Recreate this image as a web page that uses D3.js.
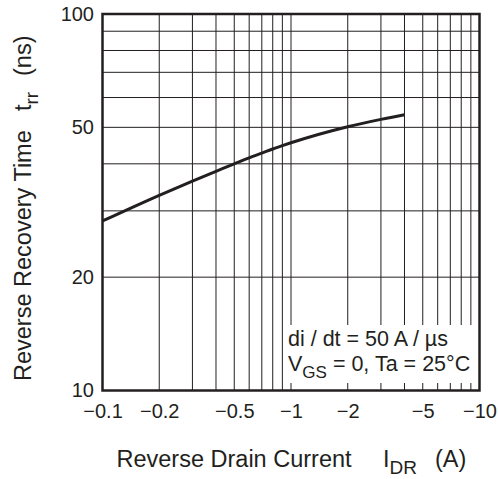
<!DOCTYPE html>
<html>
<head>
<meta charset="utf-8">
<script src="https://cdn.jsdelivr.net/npm/d3@7"></script>
<style>
  body { margin: 0; background: #fff; }
  svg { display: block; font-family: "Liberation Sans", Arial, sans-serif; }
  .axis text { fill: #231f20; font-size: 20px; }
</style>
</head>
<body>
<svg id="chart" width="498" height="479"></svg>
<script>
// reverse drain current (A, plotted as magnitude, labelled negative)
const currentA = [0.1, 0.2, 0.3, 0.4, 0.5, 0.6, 0.7, 0.8, 0.9, 1, 2, 3, 4];
// reverse recovery time trr (ns)
const trrNs = [28.2, 33.0, 36.0, 38.2, 40.0, 41.5, 42.7, 43.8, 44.7, 45.5, 50.2, 52.5, 54.0];

const xTicks = [0.1, 0.2, 0.5, 1, 2, 5, 10];
const yTicks = [10, 20, 50, 100];
const xGrid = [0.2, 0.3, 0.4, 0.5, 0.6, 0.7, 0.8, 0.9, 1, 2, 3, 4, 5, 6, 7, 8, 9];
const yGrid = [20, 30, 40, 50, 60, 70, 80, 90];

const margin = { top: 14, right: 18.5, bottom: 88.5, left: 102.5 },
    width = 498 - margin.left - margin.right,
    height = 479 - margin.top - margin.bottom;

const ink = "#231f20";

const x = d3.scaleLog().domain([0.1, 10]).range([0, width]);
const y = d3.scaleLog().domain([10, 100]).range([height, 0]);

const svg = d3.select("#chart");
const g = svg.append("g")
    .attr("transform", "translate(" + margin.left + "," + margin.top + ")");

// grid
g.selectAll(".vgrid").data(xGrid).enter().append("line")
    .attr("x1", d => x(d)).attr("x2", d => x(d))
    .attr("y1", 0).attr("y2", height)
    .style("stroke", ink).style("stroke-width", 1);

g.selectAll(".hgrid").data(yGrid).enter().append("line")
    .attr("x1", 0).attr("x2", width)
    .attr("y1", d => y(d)).attr("y2", d => y(d))
    .style("stroke", ink).style("stroke-width", 1);

// curve
const line = d3.line()
    .x((d, i) => x(currentA[i]))
    .y(d => y(d))
    .curve(d3.curveMonotoneX);

g.append("path").datum(trrNs)
    .attr("d", line)
    .style("fill", "none")
    .style("stroke", ink)
    .style("stroke-width", 3);

// conditions box
const note = g.append("g").attr("transform", "translate(" + (284 - margin.left) + "," + (325 - margin.top) + ")");
note.append("rect").attr("width", 192).attr("height", 58).style("fill", "#fff");
const noteText = note.append("text").style("font-size", "21.5px").style("fill", ink);
noteText.append("tspan").attr("x", 4).attr("y", 20.5).text("di / dt = 50 A / \u00b5s");
const l2 = noteText.append("tspan").attr("x", 4).attr("y", 45.5);
l2.append("tspan").text("V");
l2.append("tspan").attr("dy", 7).style("font-size", "17px").text("GS");
l2.append("tspan").attr("dy", -7).text(" = 0, Ta = 25\u00b0C");

// frame
g.append("rect")
    .attr("width", width).attr("height", height)
    .style("fill", "none").style("stroke", ink).style("stroke-width", 2.5);

// axes
const xAxis = d3.axisBottom(x)
    .tickValues(xTicks)
    .tickSize(0)
    .tickPadding(13)
    .tickFormat(d => "\u2212" + d);

const yAxis = d3.axisLeft(y)
    .tickValues(yTicks)
    .tickSize(0)
    .tickPadding(8.5)
    .tickFormat(d => d);

g.append("g").attr("class", "x axis")
    .attr("transform", "translate(0," + height + ")")
    .call(xAxis)
    .call(a => a.select(".domain").remove());

g.append("g").attr("class", "y axis")
    .call(yAxis)
    .call(a => a.select(".domain").remove());

// axis titles
const xt = svg.append("text")
    .attr("x", 116.5).attr("y", 467)
    .style("font-size", "23.5px").style("fill", ink);
xt.append("tspan").text("Reverse Drain Current");
xt.append("tspan").attr("x", 383).text("I");
xt.append("tspan").attr("dy", 7).style("font-size", "19px").text("DR");
xt.append("tspan").attr("x", 435).attr("dy", -7).text("(A)");

const yt = svg.append("text")
    .attr("transform", "translate(30.5,0) rotate(-90)")
    .attr("x", -381)
    .style("font-size", "23.5px").style("fill", ink);
yt.append("tspan").text("Reverse Recovery Time");
yt.append("tspan").attr("x", -111).text("t");
yt.append("tspan").attr("dy", 7).style("font-size", "19px").text("rr");
yt.append("tspan").attr("x", -76).attr("dy", -7).text("(ns)");
</script>
</body>
</html>
